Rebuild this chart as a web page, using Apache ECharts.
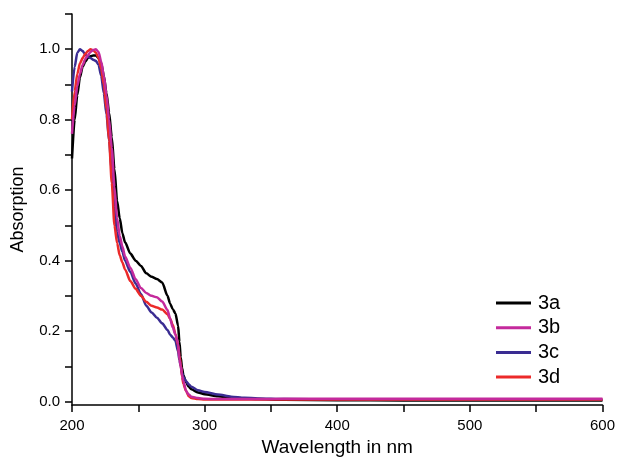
<!DOCTYPE html>
<html>
<head>
<meta charset="utf-8">
<script src="https://cdn.jsdelivr.net/npm/echarts@6/dist/echarts.min.js"></script>
<style>
html,body{margin:0;padding:0;background:#fff;}
#chart{width:618px;height:462px;}
</style>
</head>
<body>
<div id="chart"></div>
<script>
var wavelength = [200,202,204,206,208,210,212,214,216,218,220,222,224,226,228,230,232,234,236,238,240,244,248,252,256,260,264,268,272,274,276,278,280,281,282,283,284,286,288,290,295,300,310,320,330,340,360,400,450,500,550,600];
var abs3a = [0.69,0.80,0.87,0.92,0.95,0.965,0.975,0.98,0.982,0.982,0.975,0.96,0.925,0.875,0.82,0.75,0.66,0.57,0.52,0.478,0.452,0.42,0.40,0.385,0.364,0.354,0.348,0.338,0.30,0.278,0.262,0.25,0.215,0.17,0.125,0.095,0.075,0.055,0.042,0.035,0.026,0.021,0.015,0.011,0.009,0.007,0.005,0.004,0.003,0.003,0.003,0.003];
var abs3b = [0.76,0.84,0.895,0.93,0.955,0.972,0.983,0.992,0.998,1.0,0.992,0.965,0.925,0.87,0.80,0.72,0.61,0.52,0.47,0.44,0.412,0.38,0.347,0.322,0.308,0.30,0.296,0.284,0.26,0.235,0.21,0.19,0.165,0.12,0.10,0.075,0.058,0.03,0.02,0.014,0.01,0.008,0.007,0.007,0.007,0.007,0.008,0.008,0.008,0.008,0.008,0.008];
var abs3c = [0.88,0.95,0.99,1.0,0.995,0.985,0.978,0.975,0.97,0.967,0.956,0.925,0.875,0.815,0.74,0.65,0.55,0.48,0.45,0.425,0.40,0.368,0.335,0.305,0.272,0.253,0.238,0.222,0.203,0.19,0.182,0.172,0.142,0.118,0.10,0.082,0.07,0.058,0.049,0.042,0.032,0.027,0.02,0.014,0.011,0.009,0.007,0.006,0.005,0.005,0.005,0.005];
var abs3d = [0.80,0.88,0.93,0.96,0.975,0.987,0.995,1.0,0.997,0.99,0.975,0.945,0.90,0.83,0.74,0.62,0.50,0.45,0.415,0.395,0.375,0.342,0.32,0.30,0.283,0.272,0.267,0.261,0.248,0.235,0.217,0.192,0.16,0.13,0.105,0.07,0.05,0.03,0.015,0.01,0.007,0.006,0.006,0.006,0.006,0.006,0.006,0.006,0.006,0.006,0.006,0.006];
var seriesNames = ['3a','3b','3c','3d'];
var seriesColors = ['#000000','#c42a9c','#3a2c92','#ec2a2a'];
var xTicks = [200,250,300,350,400,450,500,550,600];
var xLabels = [200,300,400,500,600];
var yTicks = [0,0.1,0.2,0.3,0.4,0.5,0.6,0.7,0.8,0.9,1.0,1.1];
var yLabels = [0,0.2,0.4,0.6,0.8,1.0];

function pairs(ys){ return wavelength.map(function(x,i){ return [x, ys[i]]; }); }
var values = {'3a':abs3a,'3b':abs3b,'3c':abs3c,'3d':abs3d};
var drawOrder = ['3a','3c','3d','3b'];

var chart = echarts.init(document.getElementById('chart'), null, {renderer:'canvas'});
var font = '"Liberation Sans", Arial, sans-serif';
chart.setOption({
  animation:false,
  backgroundColor:'#ffffff',
  grid:{left:72, right:13.5, top:14, bottom:52},
  legend:{
    orient:'vertical', left:491, top:288,
    data:seriesNames, icon:'rect', itemWidth:35, itemHeight:3, itemGap:4.7,
    textStyle:{fontFamily:font, fontSize:20, lineHeight:20, color:'#000', padding:[0,0,0,2]}
  },
  xAxis:{
    type:'value', min:200, max:600, interval:50,
    name:'Wavelength in nm', nameLocation:'middle', nameGap:32,
    nameTextStyle:{fontFamily:font, fontSize:19, color:'#000'},
    axisLine:{onZero:false, lineStyle:{color:'#000', width:1.5}},
    axisTick:{inside:false, length:7, customValues:xTicks, lineStyle:{color:'#000', width:1.5}},
    axisLabel:{customValues:xLabels, fontFamily:font, fontSize:15, color:'#000', margin:13},
    splitLine:{show:false}
  },
  yAxis:{
    type:'value', min:-0.01, max:1.1,
    name:'Absorption', nameLocation:'middle', nameGap:45,
    nameTextStyle:{fontFamily:font, fontSize:18, color:'#000'},
    axisLine:{show:true, onZero:false, lineStyle:{color:'#000', width:1.5}},
    axisTick:{show:true, inside:false, length:7, customValues:yTicks, lineStyle:{color:'#000', width:1.5}},
    axisLabel:{customValues:yLabels, fontFamily:font, fontSize:15, color:'#000', margin:12,
      formatter:function(v){ return v.toFixed(1); }},
    splitLine:{show:false}
  },
  series: drawOrder.map(function(n){
    var c = seriesColors[seriesNames.indexOf(n)];
    return {
      name:n, type:'line', data:pairs(values[n]), showSymbol:false, symbol:'none',
      smooth:0.25, smoothMonotone:'x',
      lineStyle:{color:c, width:2.5}, itemStyle:{color:c}
    };
  })
});
</script>
</body>
</html>
